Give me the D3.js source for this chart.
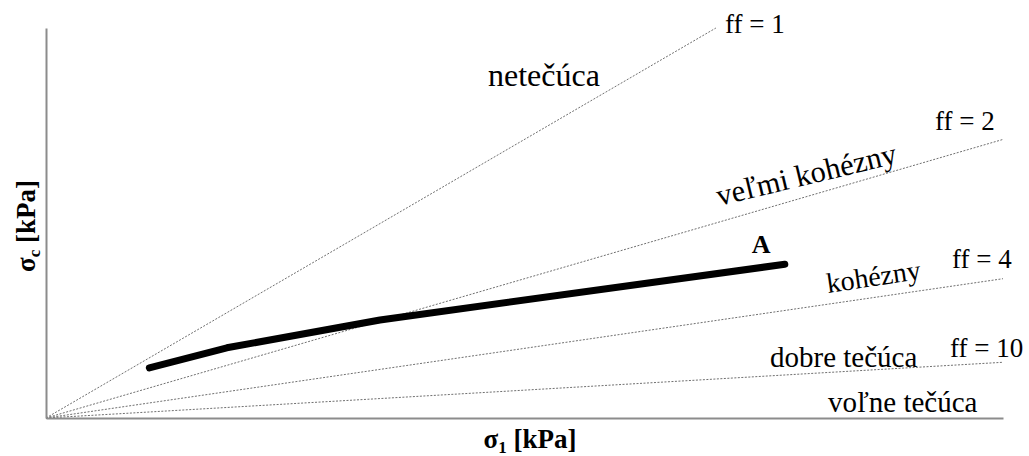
<!DOCTYPE html>
<html>
<head>
<meta charset="utf-8">
<script src="https://cdn.jsdelivr.net/npm/d3@7"></script>
<style>
  html, body { margin: 0; padding: 0; background: #fff; }
  svg { display: block; }
</style>
</head>
<body>
<svg id="chart" width="1029" height="456" font-family="Liberation Serif, Times New Roman, serif"></svg>
<script>
// Flow-function lines σc = σ1 / ff
const ffValues = [1, 2, 4, 10];
const ffLabels = ["ff = 1", "ff = 2", "ff = 4", "ff = 10"];
const ffLineEnd = [7, 10, 10, 10];          // σ1 where each line stops

// Flowability regions between the lines
const regionNames = ["netečúca", "veľmi kohézny", "kohézny", "dobre tečúca", "voľne tečúca"];

// Measured flow function A
const sigma1 = [1.08, 1.89, 3.49, 7.72];
const sigmaC = [0.90, 1.26, 1.76, 2.76];
const seriesName = "A";

const xDomain = [0, 10];
const yDomain = [0, 7];

const FONT = "Liberation Serif";
const svg = d3.select("#chart");
const margin = { left: 46, right: 26, top: 28, bottom: 38 };
const W = 1029, H = 456;

const x = d3.scaleLinear().domain(xDomain).range([margin.left, W - margin.right]);
const y = d3.scaleLinear().domain(yDomain).range([H - margin.bottom, margin.top]);

// dashed ff lines
svg.append("g").selectAll("line")
  .data(ffValues)
  .join("line")
  .attr("x1", x(0)).attr("y1", y(0))
  .attr("x2", (d, i) => x(ffLineEnd[i]))
  .attr("y2", (d, i) => y(ffLineEnd[i] / d))
  .attr("stroke", "#707070")
  .attr("stroke-width", 1)
  .attr("stroke-dasharray", "2,1.5");

// axes (plain lines, no ticks)
const axisColor = "#8c8c8c";
svg.append("g")
  .attr("transform", `translate(0,${y(0)})`)
  .call(d3.axisBottom(x).tickValues([]).tickSizeOuter(0))
  .call(g => g.select(".domain").attr("stroke", axisColor).attr("stroke-width", 2));
svg.append("g")
  .attr("transform", `translate(${x(0)},0)`)
  .call(d3.axisLeft(y).tickValues([]).tickSizeOuter(0))
  .call(g => g.select(".domain").attr("stroke", axisColor).attr("stroke-width", 2));

// flow function A
const line = d3.line().x(d => x(d[0])).y(d => y(d[1]));
svg.append("path")
  .datum(sigma1.map((v, i) => [v, sigmaC[i]]))
  .attr("d", line)
  .attr("fill", "none")
  .attr("stroke", "#000")
  .attr("stroke-width", 7)
  .attr("stroke-linecap", "round")
  .attr("stroke-linejoin", "round");

svg.append("text")
  .attr("x", x(sigma1[sigma1.length - 1]) - 33)
  .attr("y", y(sigmaC[sigmaC.length - 1]) - 11)
  .attr("font-family", FONT)
  .attr("font-size", 26)
  .attr("font-weight", "bold")
  .text(seriesName);

// ff labels
const ffLabelPos = [[725, 33], [935, 130], [952, 268], [950, 357]];
svg.append("g").selectAll("text")
  .data(ffLabels)
  .join("text")
  .attr("x", (d, i) => ffLabelPos[i][0])
  .attr("y", (d, i) => ffLabelPos[i][1])
  .attr("font-family", FONT)
  .attr("font-size", 27)
  .text(d => d);

// region labels
const regionPos = [
  { x: 488, y: 86, rot: 0, size: 32 },
  { x: 719, y: 206, rot: -13.5, size: 30.5 },
  { x: 828, y: 293, rot: -8.5, size: 28 },
  { x: 770, y: 367, rot: 0, size: 29 },
  { x: 828, y: 412, rot: 0, size: 29 }
];
svg.append("g").selectAll("text")
  .data(regionNames)
  .join("text")
  .attr("transform", (d, i) => `translate(${regionPos[i].x},${regionPos[i].y}) rotate(${regionPos[i].rot})`)
  .attr("font-family", FONT)
  .attr("font-size", (d, i) => regionPos[i].size)
  .text(d => d);

// axis titles
const xTitle = svg.append("text")
  .attr("x", 530).attr("y", 448)
  .attr("text-anchor", "middle")
  .attr("font-family", FONT)
  .attr("font-size", 27)
  .attr("font-weight", "bold");
xTitle.append("tspan").text("σ");
xTitle.append("tspan").attr("font-size", 17).attr("dy", 5).text("1");
xTitle.append("tspan").attr("dy", -5).text(" [kPa]");

const yTitle = svg.append("text")
  .attr("transform", `translate(35,226) rotate(-90)`)
  .attr("text-anchor", "middle")
  .attr("font-family", FONT)
  .attr("font-size", 27)
  .attr("font-weight", "bold");
yTitle.append("tspan").text("σ");
yTitle.append("tspan").attr("font-size", 17).attr("dy", 5).text("c");
yTitle.append("tspan").attr("dy", -5).text(" [kPa]");
</script>
</body>
</html>
